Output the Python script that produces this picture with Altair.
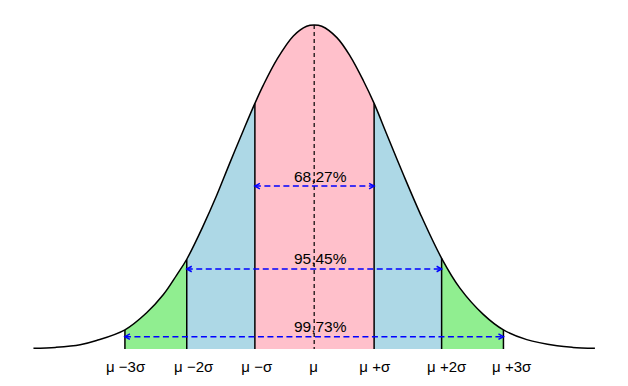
import altair as alt
import pandas as pd

# Curve of the bell (x in sigma-ish units, y relative height, peak = 1)
curve_x = [-4.45, -4.10, -3.71, -3.45, -3.00, -2.66, -2.39, -2.18, -2.02, -1.76,
           -1.55, -1.34, -1.12, -0.94, -0.81, -0.59, -0.33, -0.12, 0.00, 0.12,
           0.36, 0.57, 0.78, 0.95, 1.15, 1.41, 1.68, 2.02, 2.31, 2.68,
           3.00, 3.37, 3.85, 4.10, 4.45]
curve_y = [0.002, 0.005, 0.013, 0.026, 0.059, 0.111, 0.168, 0.228, 0.277, 0.380,
           0.472, 0.573, 0.676, 0.758, 0.813, 0.894, 0.966, 0.996, 1.000, 0.996,
           0.961, 0.904, 0.828, 0.758, 0.663, 0.540, 0.418, 0.280, 0.188, 0.107,
           0.059, 0.029, 0.010, 0.005, 0.002]

band_lo = [-3.00, -2.02, -0.94, 0.95, 2.02]
band_hi = [-2.02, -0.94, 0.95, 2.02, 3.00]
band_colors = ["#90EE90", "#ADD8E6", "#FFC0CB", "#ADD8E6", "#90EE90"]

boundaries = [-3.00, -2.02, -0.94, 0.95, 2.02, 3.00]
mean_x = [0.0]

pct_labels = ["68,27%", "95,45%", "99,73%"]
arrow_lo = [-0.94, -2.02, -3.00]
arrow_hi = [0.95, 2.02, 3.00]
arrow_y = [0.503, 0.247, 0.038]

tick_pos = [-2.99, -1.91, -0.91, -0.01, 0.96, 2.10, 3.13]
tick_labels = ["μ −3σ", "μ −2σ", "μ −σ", "μ", "μ +σ", "μ +2σ", "μ +3σ"]

X_DOMAIN = [-4.79, 4.80]
Y_DOMAIN = [0, 1.0525]

# ---- tables ----
curve_df = pd.DataFrame({"x": curve_x, "y": curve_y})
lookup = dict(zip(curve_x, curve_y))

rows = []
for i, (lo, hi, c) in enumerate(zip(band_lo, band_hi, band_colors)):
    for x, y in zip(curve_x, curve_y):
        if lo - 1e-9 <= x <= hi + 1e-9:
            rows.append({"x": x, "y": y, "band": i, "fill": c})
area_df = pd.DataFrame(rows)

bound_df = pd.DataFrame({"x": boundaries, "y": [lookup[b] for b in boundaries],
                         "y0": [0.0] * len(boundaries)})
mean_df = pd.DataFrame({"x": mean_x, "y": [lookup[m] for m in mean_x], "y0": [0.0]})
arrow_df = pd.DataFrame({"lo": arrow_lo, "hi": arrow_hi, "y": arrow_y, "label": pct_labels})
tick_df = pd.DataFrame({"x": tick_pos, "label": tick_labels, "y": [0.0] * len(tick_pos)})

xs = alt.Scale(domain=X_DOMAIN, nice=False, zero=False)
ys = alt.Scale(domain=Y_DOMAIN, nice=False, zero=False)
x_axis = alt.Axis(title=None, labels=False, ticks=False, grid=False,
                  domainColor="black", domainWidth=1.5, zindex=1)

INTERP = "catmull-rom"

areas = alt.Chart(area_df).mark_area(interpolate=INTERP).encode(
    x=alt.X("x:Q", scale=xs, axis=x_axis),
    y=alt.Y("y:Q", scale=ys, axis=None, stack=None),
    color=alt.Color("fill:N", scale=None),
    detail="band:N",
)

curve = alt.Chart(curve_df).mark_line(color="black", strokeWidth=1.5,
                                      interpolate=INTERP).encode(
    x=alt.X("x:Q", scale=xs, axis=None),
    y=alt.Y("y:Q", scale=ys, axis=None),
)

bounds = alt.Chart(bound_df).mark_rule(color="black", strokeWidth=1.5).encode(
    x=alt.X("x:Q", scale=xs, axis=None),
    y=alt.Y("y:Q", scale=ys, axis=None),
    y2="y0:Q",
)

mean_rule = alt.Chart(mean_df).mark_rule(color="black", strokeWidth=1.2,
                                         strokeDash=[4, 3]).encode(
    x=alt.X("x:Q", scale=xs, axis=None),
    y=alt.Y("y:Q", scale=ys, axis=None),
    y2="y0:Q",
)

arrows = alt.Chart(arrow_df).mark_rule(color="#0000FF", strokeWidth=1.5,
                                       strokeDash=[6, 3.5]).encode(
    x=alt.X("lo:Q", scale=xs, axis=None),
    x2="hi:Q",
    y=alt.Y("y:Q", scale=ys, axis=None),
)

head_l = alt.Chart(arrow_df).mark_point(shape="M1,-0.55L0,0L1,0.55", size=100,
                                        filled=False, color="#0000FF",
                                        strokeWidth=1.5, opacity=1).encode(
    x=alt.X("lo:Q", scale=xs, axis=None),
    y=alt.Y("y:Q", scale=ys, axis=None),
)
head_r = alt.Chart(arrow_df).mark_point(shape="M-1,-0.55L0,0L-1,0.55", size=100,
                                        filled=False, color="#0000FF",
                                        strokeWidth=1.5, opacity=1).encode(
    x=alt.X("hi:Q", scale=xs, axis=None),
    y=alt.Y("y:Q", scale=ys, axis=None),
)

pct_text = alt.Chart(arrow_df).mark_text(font="Liberation Sans", fontSize=15.5,
                                         align="center", baseline="alphabetic",
                                         dx=6, dy=-4.5, color="black").encode(
    x=alt.X("x:Q", scale=xs, axis=None),
    y=alt.Y("y:Q", scale=ys, axis=None),
    text="label:N",
).transform_calculate(x="0")

tick_text = alt.Chart(tick_df).mark_text(font="Liberation Sans", fontSize=15,
                                         align="center", baseline="alphabetic",
                                         dy=23, color="black").encode(
    x=alt.X("x:Q", scale=xs, axis=None),
    y=alt.Y("y:Q", scale=ys, axis=None),
    text="label:N",
)

chart = alt.layer(
    areas, bounds, curve, mean_rule, arrows, head_l, head_r, pct_text, tick_text
).properties(
    width=605, height=341,
    autosize=alt.AutoSizeParams(type="none"),
    padding={"left": 4, "top": 0, "right": 3, "bottom": 29},
    background="white",
).configure_view(stroke=None)

chart.save("out.html", embed_options={"renderer": "svg", "actions": False})
